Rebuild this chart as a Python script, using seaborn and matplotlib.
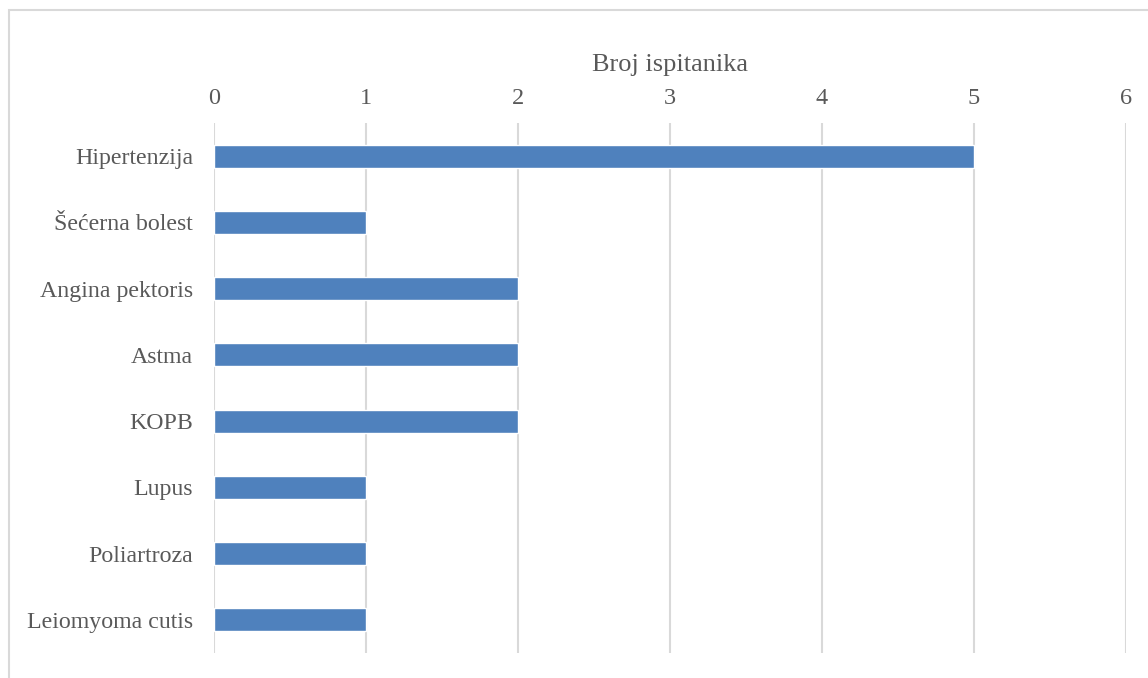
import pandas as pd
import seaborn as sns
import matplotlib.pyplot as plt
from matplotlib.patches import Rectangle

bolesti = ['Hipertenzija', 'Šećerna bolest', 'Angina pektoris', 'Astma',
           'KOPB', 'Lupus', 'Poliartroza', 'Leiomyoma cutis']
broj = [5, 1, 2, 2, 2, 1, 1, 1]
x_ticks = [0, 1, 2, 3, 4, 5, 6]

df = pd.DataFrame({'Bolest': bolesti, 'Broj': broj})

sns.set_style('white')
plt.rcParams['font.family'] = ['Liberation Serif', 'DejaVu Serif']

fig = plt.figure(figsize=(11.48, 6.78), dpi=100)
ax = fig.add_axes([214 / 1148, 1 - 653 / 678, (1126 - 214) / 1148, 530 / 678])

sns.barplot(data=df, x='Broj', y='Bolest', orient='h', color='#4F81BD',
            saturation=1, width=0.35, ax=ax)

ax.set_xlim(0, 6)
ax.set_ylim(7.5, -0.5)
ax.set_xticks(x_ticks)
ax.xaxis.tick_top()
ax.xaxis.set_label_position('top')
ax.set_xlabel('Broj ispitanika', fontsize=19, color='#595959', labelpad=12)
ax.set_ylabel('')
ax.tick_params(axis='x', labelsize=17.5, colors='#595959', length=0, pad=10)
ax.tick_params(axis='y', labelsize=17.2, colors='#595959', length=0, pad=15)
ax.grid(axis='x', color='#D9D9D9', linewidth=1.5)
ax.set_axisbelow(True)
for s in ax.spines.values():
    s.set_visible(False)

fig.patches.append(Rectangle((9 / 1148, -0.2), 1.5, 0.2 + 1 - 10 / 678,
                             transform=fig.transFigure, fill=False,
                             edgecolor='#D9D9D9', linewidth=1.5))

fig.savefig('out.png', dpi=100)
